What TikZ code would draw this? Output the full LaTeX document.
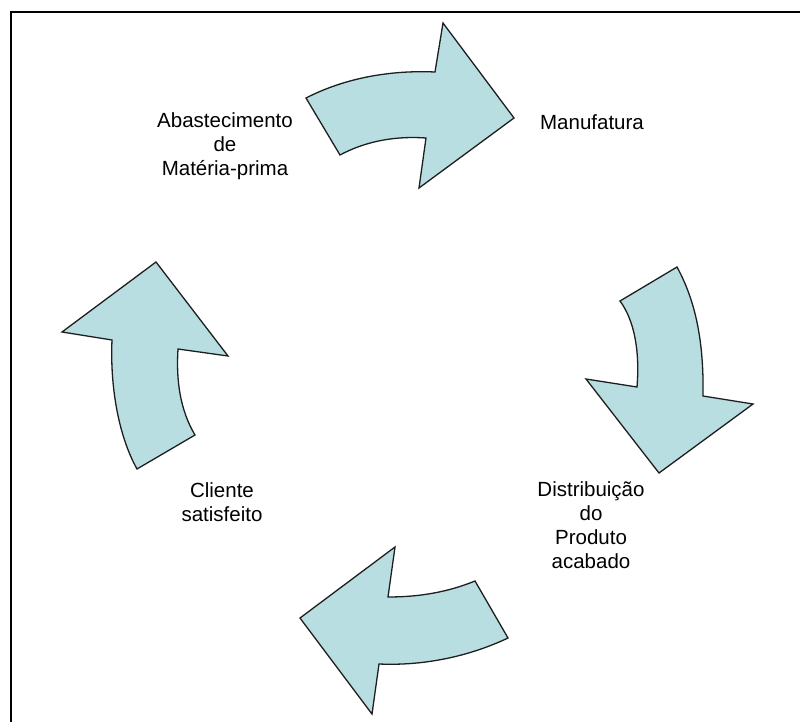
\documentclass[tikz,border=0pt]{standalone}
\usepackage{fontspec}
\setmainfont{Liberation Sans}
\definecolor{arrowfill}{RGB}{184,222,226}
\definecolor{arrowline}{RGB}{30,30,30}
\begin{document}
\begin{tikzpicture}[x=1pt,y=-1pt,
  bentarrow/.style={fill=arrowfill,draw=arrowline,line width=1.3pt,line join=miter},
  lbl/.style={align=center,inner sep=0pt,text=black,font=\fontsize{20.5}{24}\selectfont},
  frame/.style={line width=2.5pt,draw=black}]
\useasboundingbox (0,0) rectangle (800,722);
\fill[white] (0,0) rectangle (800,722);
\draw[frame] (800,12) -- (11,12) -- (11,722);

% top arrow
\draw[bentarrow] (306,98) .. controls (345,78) and (390,70) .. (435,72) -- (443,23) -- (514,118) -- (419,188) -- (426,138) .. controls (398,136) and (368,140) .. (340,155) -- cycle;
% right arrow
\draw[bentarrow] (677,267) .. controls (695,300) and (704,340) .. (703,396) -- (753,404) -- (659,473) -- (586,379) -- (637,387) .. controls (640,350) and (634,320) .. (620,301) -- cycle;
% bottom arrow
\draw[bentarrow] (475,581) .. controls (448,592) and (420,597) .. (388,597) -- (395,547) -- (300,618) -- (372,714) -- (379,664) .. controls (425,666) and (470,656) .. (508,638) -- cycle;
% left arrow
\draw[bentarrow] (156,262) -- (228,356) -- (178,349) .. controls (176,380) and (180,410) .. (195,435) -- (137,469) .. controls (118,435) and (110,385) .. (112,340) -- (62,332) -- cycle;

\node[lbl] (abast) at (225,146) {Abastecimento\\de\\Matéria-prima};
\node[lbl] (manuf) at (592,122) {Manufatura};
\node[lbl] (distr) at (591,525) {Distribuição\\do\\Produto\\acabado};
\node[lbl] (clien) at (222,502) {Cliente\\satisfeito};
\end{tikzpicture}
\end{document}
